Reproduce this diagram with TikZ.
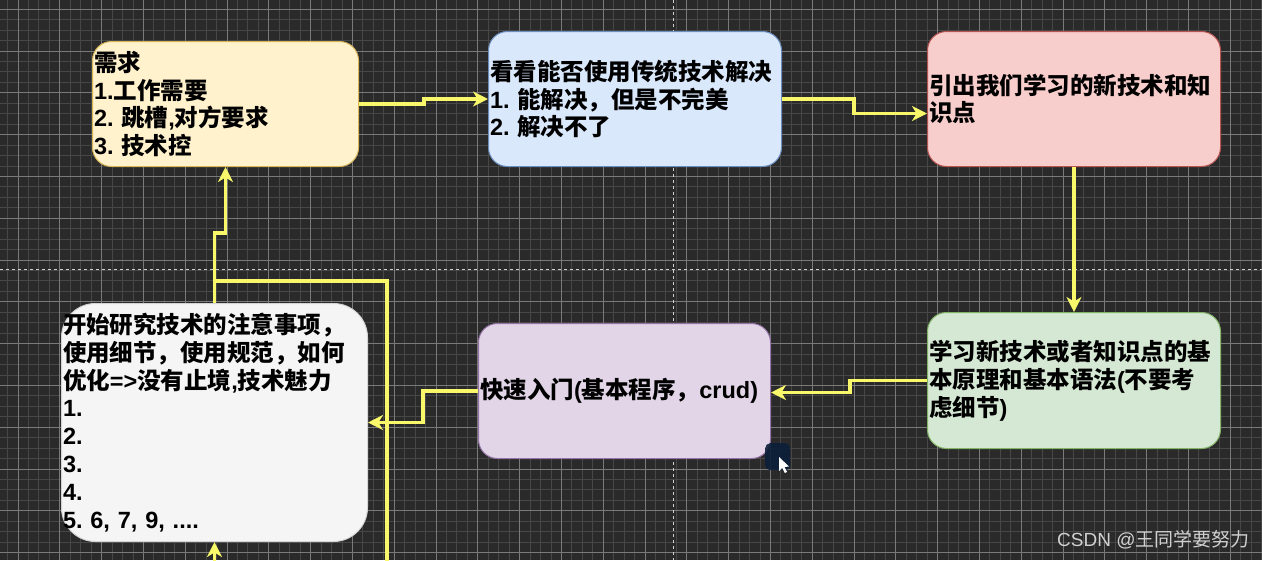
\documentclass[tikz,border=0pt]{standalone}
\usepackage{fontspec}
\usetikzlibrary{arrows.meta}
\setmainfont{Liberation Sans}
\newfontfamily\cjk{Noto Sans CJK SC}
\newcommand\zh[1]{{\cjk #1}}
\frenchspacing
\definecolor{bgc}{HTML}{2A2A2A}
\definecolor{minorc}{HTML}{474747}
\definecolor{majorc}{HTML}{7A7A7A}
\definecolor{dashc}{HTML}{D0D0D0}
\definecolor{edgec}{HTML}{F8F86A}
\definecolor{yfill}{HTML}{FFF2CC}\definecolor{ydraw}{HTML}{D6B656}
\definecolor{bfill}{HTML}{DAE8FC}\definecolor{bdraw}{HTML}{6C8EBF}
\definecolor{rfill}{HTML}{F8CECC}\definecolor{rdraw}{HTML}{B85450}
\definecolor{gfill}{HTML}{D5E8D4}\definecolor{gdraw}{HTML}{82B366}
\definecolor{pfill}{HTML}{E1D5E7}\definecolor{pdraw}{HTML}{9673A6}
\definecolor{wfill}{HTML}{F5F5F5}\definecolor{wdraw}{HTML}{D4D4D4}
\definecolor{markc}{HTML}{D0D0D0}
\definecolor{blobc}{HTML}{0B1E3A}
\begin{document}
\begin{tikzpicture}[x=1pt,y=-1pt,
  box/.style={draw, line width=1pt, rounded corners=19pt, anchor=north west,
    inner xsep=1.5pt, inner ysep=0pt, align=left, text=black,
    font=\bfseries\fontsize{23.5}{27.8}\selectfont},
  conn/.style={draw=edgec, line width=3.2pt},
  arr/.style={conn, -{Stealth[length=15pt,width=15pt,inset=4.5pt]}},
  gridminor/.style={minorc, line width=0.9pt},
  gridmajor/.style={majorc, line width=1pt},
  pagedash/.style={dashc, line width=1pt, dash pattern=on 3pt off 3pt}]
\useasboundingbox (0,0) rectangle (1262,560);
\fill[bgc] (0,0) rectangle (1262,560);
\begin{scope}
\clip (0,0) rectangle (1262,560);
% minor grid
\foreach \i in {0,...,121} \draw[gridminor] (7.55+\i*10.45,0) -- ++(0,560);
\foreach \j in {0,...,53} \draw[gridminor] (0,9.2+\j*10.45) -- ++(1262,0);
% major grid
\foreach \i in {0,...,30} \draw[gridmajor] (18+\i*41.8,0) -- ++(0,560);
\foreach \j in {0,...,13} \draw[gridmajor] (0,9.2+\j*41.8) -- ++(1262,0);
% page break lines
\draw[pagedash] (673,0) -- (673,560);
\draw[pagedash] (0,269) -- (1262,269);
\end{scope}

% boxes
\node[box, fill=yfill, draw=ydraw, text width=263pt, minimum height=125pt] (b1) at (92,41)
  {\zh{需求}\\1.\zh{工作需要}\\2. \zh{跳槽},\zh{对方要求}\\3. \zh{技术控}};
\node[box, fill=bfill, draw=bdraw, text width=290pt, minimum height=135pt] (b2) at (488,31)
  {\zh{看看能否使用传统技术解决}\\1. \zh{能解决，但是不完美}\\2. \zh{解决不了}};
\node[box, fill=rfill, draw=rdraw, text width=290pt, minimum height=135pt] (b3) at (927,31)
  {\zh{引出我们学习的新技术和知}\\\zh{识点}};
\node[box, fill=gfill, draw=gdraw, text width=290pt, minimum height=136pt] (b4) at (927,312)
  {\zh{学习新技术或者知识点的基}\\\zh{本原理和基本语法}(\zh{不要考}\\\zh{虑细节})};
\node[box, fill=pfill, draw=pdraw, text width=289pt, minimum height=135pt] (b5) at (478,323)
  {\zh{快速入门}(\zh{基本程序，}crud)};
\node[box, fill=wfill, draw=wdraw, rounded corners=34pt, text width=303pt, minimum height=238pt] (b6) at (61,303)
  {\zh{开始研究技术的注意事项，}\\\zh{使用细节，使用规范，如何}\\\zh{优化}=>\zh{没有止境},\zh{技术魅力}\\1.\\2.\\3.\\4.\\5. 6, 7, 9, ....};

% free ends at the bottom edge
\coordinate (c1) at (387,562);
\coordinate (c2) at (b6.south |- c1);

% connectors
\draw[arr] (b1.east) -- ++(65,0) |- (b2.west);
\draw[arr] (b2.east) -- ++(72,0) |- ([yshift=-14.5pt]b3.west);
\draw[arr] (b3.south) -- (b4.north);
\draw[arr] (b4.west) -- ++(-77,0) |- ([yshift=-1.5pt]b5.east);
\draw[arr] (b5.west) -- ++(-55,0) |- (b6.east);
\draw[arr] (b6.north) -- ++(0,-70) -| (b1.south);
\draw[conn] (c1) -- ++(0,-281) -| (b6.north);
\draw[arr] (c2) -- (b6.south);

% mouse cursor
\node[fill=blobc, opacity=0.9, rounded corners=5pt, minimum width=25pt, minimum height=27pt, inner sep=0pt, anchor=north west] (blob) at (765,443) {};
\fill[white] (779,457) -- (779,471) -- (782.2,467.8) -- (784.8,473) -- (787,472) -- (784.5,467) -- (789,466.5) -- cycle;

% watermark
\node[anchor=west, inner sep=0pt, text=markc, font=\fontsize{19}{22}\selectfont] (wm) at (1057,540) {CSDN @\zh{王同学要努力}};
\end{tikzpicture}
\end{document}
